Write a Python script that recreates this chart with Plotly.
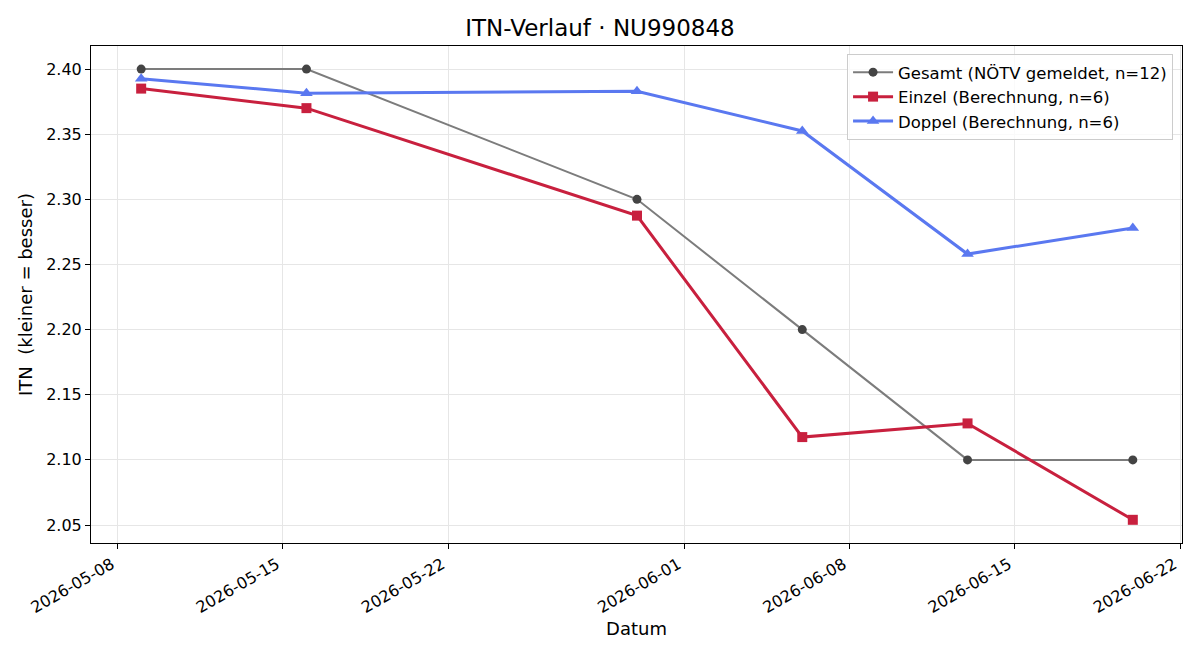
import plotly.graph_objects as go

dates = ["2026-05-09", "2026-05-16", "2026-05-30", "2026-06-06", "2026-06-13", "2026-06-20"]
gesamt = [2.40, 2.40, 2.30, 2.20, 2.10, 2.10]
einzel = [2.385, 2.370, 2.2875, 2.1175, 2.128, 2.054]
doppel = [2.3925, 2.3815, 2.383, 2.3525, 2.258, 2.278]

x_ticks = ["2026-05-08", "2026-05-15", "2026-05-22", "2026-06-01", "2026-06-08", "2026-06-15", "2026-06-22"]
y_ticks = [2.05, 2.10, 2.15, 2.20, 2.25, 2.30, 2.35, 2.40]

FONT = "DejaVu Sans"

fig = go.Figure()
fig.add_trace(go.Scatter(
    x=dates, y=gesamt, mode="lines+markers",
    name="Gesamt (NÖTV gemeldet, n=12)",
    line=dict(color="#7c7c7c", width=2),
    marker=dict(symbol="circle", size=9, color="#444444"),
))
fig.add_trace(go.Scatter(
    x=dates, y=einzel, mode="lines+markers",
    name="Einzel (Berechnung, n=6)",
    line=dict(color="#c8203e", width=3),
    marker=dict(symbol="square", size=10, color="#c8203e"),
))
fig.add_trace(go.Scatter(
    x=dates, y=doppel, mode="lines+markers",
    name="Doppel (Berechnung, n=6)",
    line=dict(color="#5a78f0", width=3),
    marker=dict(symbol="triangle-up", size=11, color="#5a78f0"),
))

fig.update_layout(
    width=1200, height=660,
    margin=dict(l=91, r=18, t=46, b=117),
    paper_bgcolor="white", plot_bgcolor="white",
    font=dict(family=FONT, size=16, color="black"),
    title=dict(text="ITN-Verlauf · NU990848", x=0.5, xanchor="center",
               y=1 - 28 / 660, yanchor="middle", font=dict(size=23)),
    showlegend=True,
    legend=dict(x=0.9918, y=0.984, xanchor="right", yanchor="top",
                bgcolor="rgba(255,255,255,0.8)", bordercolor="#cccccc", borderwidth=1,
                font=dict(size=16.5), tracegroupgap=0, itemwidth=40),
    xaxis=dict(
        title=dict(text="Datum", font=dict(size=18), standoff=6),
        type="date",
        range=["2026-05-06 21:00", "2026-06-22 02:00"],
        tickvals=x_ticks, ticktext=x_ticks, tickangle=-30,
        tickfont=dict(size=16), ticklabelshift=-6,
        showgrid=True, gridcolor="#e6e6e6", gridwidth=1,
        showline=True, linecolor="black", linewidth=1, mirror=True,
        ticks="outside", ticklen=5, tickcolor="black", zeroline=False,
    ),
    yaxis=dict(
        title=dict(text="ITN  (kleiner = besser)", font=dict(size=18), standoff=8),
        range=[2.0362, 2.4177],
        tickvals=y_ticks, ticktext=[f"{v:.2f}" for v in y_ticks],
        tickfont=dict(size=16),
        showgrid=True, gridcolor="#e6e6e6", gridwidth=1,
        showline=True, linecolor="black", linewidth=1, mirror=True,
        ticks="outside", ticklen=5, tickcolor="black", zeroline=False,
    ),
)

fig.write_html("out.html")
